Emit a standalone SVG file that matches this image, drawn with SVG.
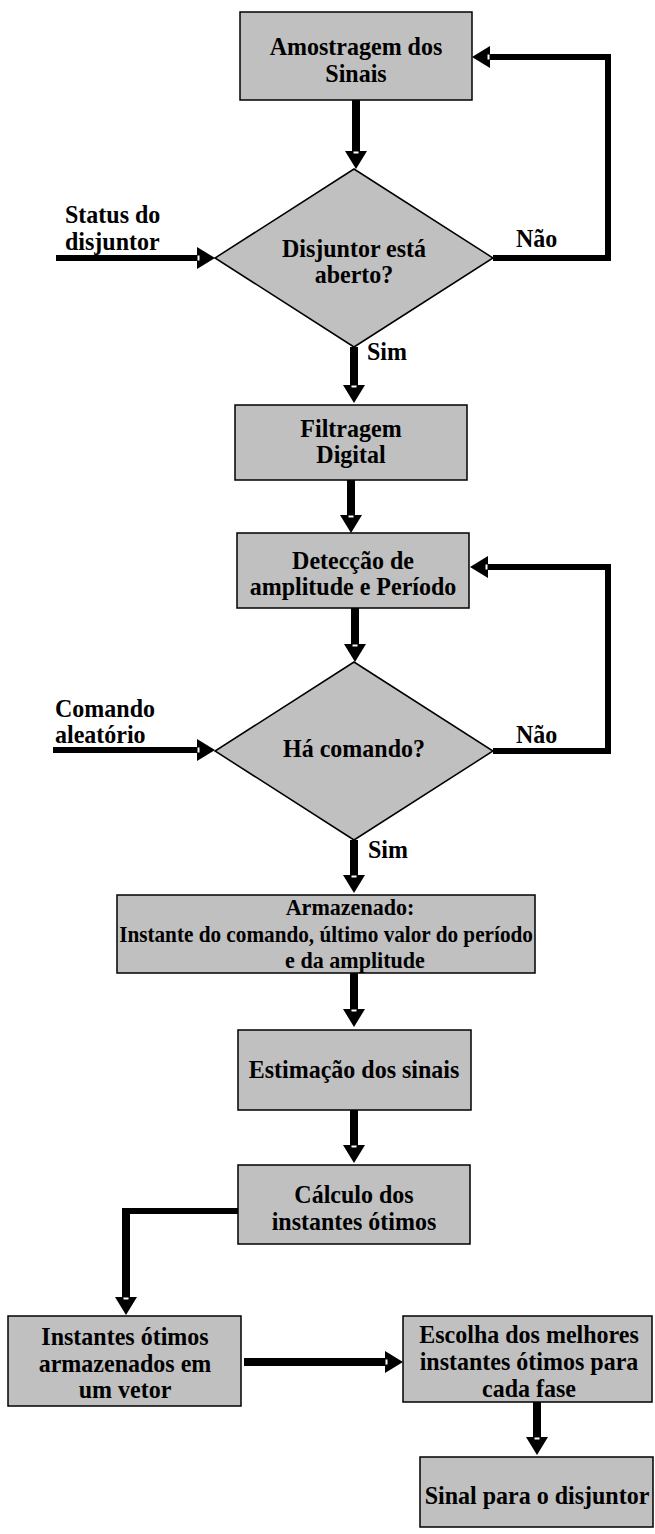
<svg xmlns="http://www.w3.org/2000/svg" width="655" height="1534" viewBox="0 0 655 1534">
<defs>
<marker id="ah" viewBox="0 0 18 22" markerWidth="18" markerHeight="22" refX="0" refY="11" orient="auto" markerUnits="userSpaceOnUse">
<path d="M0,0 L18,11 L0,22 Z" fill="#000"/>
<rect x="0.5" y="8.5" width="2" height="5" fill="#fff"/>
</marker>
</defs>
<style>
.box{fill:#c0c0c0;stroke:#000;stroke-width:1.5}
.t{font-family:"Liberation Serif","Times New Roman",serif;font-weight:bold;font-size:25px;fill:#000;text-anchor:middle}
.l{font-family:"Liberation Serif","Times New Roman",serif;font-weight:bold;font-size:25px;fill:#000}
.s{font-size:23px}
.c{fill:none;stroke:#000;stroke-linejoin:miter}
.v{stroke-width:8}
.h{stroke-width:6}
</style>
<rect width="655" height="1534" fill="#fff"/>

<g id="connectors">
<line class="c v" x1="356" y1="100" x2="356" y2="151" marker-end="url(#ah)"/>
<line class="c v" x1="354" y1="347" x2="354" y2="385" marker-end="url(#ah)"/>
<line class="c v" x1="351" y1="480" x2="351" y2="515" marker-end="url(#ah)"/>
<line class="c v" x1="355" y1="608" x2="355" y2="644" marker-end="url(#ah)"/>
<line class="c v" x1="354" y1="840" x2="354" y2="875" marker-end="url(#ah)"/>
<line class="c v" x1="354" y1="973" x2="354" y2="1009" marker-end="url(#ah)"/>
<line class="c v" x1="354" y1="1110" x2="354" y2="1145" marker-end="url(#ah)"/>
<line class="c h" x1="238" y1="1211" x2="123" y2="1211"/>
<line class="c v" x1="126" y1="1208" x2="126" y2="1297" marker-end="url(#ah)"/>
<line class="c v" x1="244" y1="1362" x2="385" y2="1362" marker-end="url(#ah)"/>
<line class="c v" x1="537" y1="1402" x2="537" y2="1437" marker-end="url(#ah)"/>
<path class="c h" d="M493,258 H608 V57 H490" marker-end="url(#ah)"/>
<path class="c h" d="M493,751 H608 V567 H488" marker-end="url(#ah)"/>
<line class="c h" x1="56" y1="258" x2="197" y2="258" marker-end="url(#ah)"/>
<line class="c h" x1="53" y1="750" x2="197" y2="750" marker-end="url(#ah)"/>
</g>

<g id="amostragem">
<rect class="box" x="240" y="12" width="232" height="88"/>
<text class="t" transform="translate(356,55) scale(0.96,1)">Amostragem dos</text>
<text class="t" transform="translate(356,82) scale(0.96,1)">Sinais</text>
</g>

<g id="disjuntor-aberto">
<polygon class="box" points="354,169 493,258 354,347 215,258"/>
<text class="t" transform="translate(354,257) scale(0.96,1)">Disjuntor está</text>
<text class="t" transform="translate(354,283) scale(0.96,1)">aberto?</text>
</g>

<g id="status-label">
<text class="l" transform="translate(65,223) scale(0.96,1)">Status do</text>
<text class="l" transform="translate(65,250) scale(0.96,1)">disjuntor</text>
</g>

<g id="labels-d1">
<text class="l" transform="translate(516,247) scale(0.96,1)">Não</text>
<text class="l" transform="translate(367,360) scale(0.96,1)">Sim</text>
</g>

<g id="filtragem">
<rect class="box" x="235" y="405" width="232" height="75"/>
<text class="t" transform="translate(351,437) scale(0.96,1)">Filtragem</text>
<text class="t" transform="translate(351,463) scale(0.96,1)">Digital</text>
</g>

<g id="deteccao">
<rect class="box" x="237" y="533" width="232" height="75"/>
<text class="t" transform="translate(353,569) scale(0.96,1)">Detecção de</text>
<text class="t" transform="translate(353,595) scale(0.96,1)">amplitude e Período</text>
</g>

<g id="ha-comando">
<polygon class="box" points="354,662 493,751 354,840 215,751"/>
<text class="t" transform="translate(354,757) scale(0.96,1)">Há comando?</text>
</g>

<g id="comando-label">
<text class="l" transform="translate(55,717) scale(0.96,1)">Comando</text>
<text class="l" transform="translate(55,743) scale(0.96,1)">aleatório</text>
</g>

<g id="labels-d2">
<text class="l" transform="translate(516,743) scale(0.96,1)">Não</text>
<text class="l" transform="translate(368,858) scale(0.96,1)">Sim</text>
</g>

<g id="armazenado">
<rect class="box" x="117" y="895" width="418" height="78"/>
<text class="t s" transform="translate(350,915) scale(0.96,1)">Armazenado:</text>
<text class="t s" transform="translate(326,942) scale(0.96,1)" textLength="431" lengthAdjust="spacingAndGlyphs">Instante do comando, último valor do período</text>
<text class="t s" transform="translate(355,968) scale(0.96,1)">e da amplitude</text>
</g>

<g id="estimacao">
<rect class="box" x="238" y="1030" width="233" height="80"/>
<text class="t" transform="translate(354,1078) scale(0.96,1)">Estimação dos sinais</text>
</g>

<g id="calculo">
<rect class="box" x="238" y="1165" width="232" height="79"/>
<text class="t" transform="translate(354,1203) scale(0.96,1)">Cálculo dos</text>
<text class="t" transform="translate(354,1230) scale(0.96,1)">instantes ótimos</text>
</g>

<g id="instantes">
<rect class="box" x="8" y="1316" width="233" height="90"/>
<text class="t" transform="translate(125,1345) scale(0.96,1)">Instantes ótimos</text>
<text class="t" transform="translate(125,1372) scale(0.96,1)">armazenados em</text>
<text class="t" transform="translate(125,1398) scale(0.96,1)">um vetor</text>
</g>

<g id="escolha">
<rect class="box" x="403" y="1316" width="249" height="86"/>
<text class="t" transform="translate(529,1343) scale(0.96,1)">Escolha dos melhores</text>
<text class="t" transform="translate(529,1370) scale(0.96,1)">instantes ótimos para</text>
<text class="t" transform="translate(529,1397) scale(0.96,1)">cada fase</text>
</g>

<g id="sinal">
<rect class="box" x="420" y="1457" width="233" height="70"/>
<text class="t" transform="translate(537,1504) scale(0.96,1)">Sinal para o disjuntor</text>
</g>
</svg>
